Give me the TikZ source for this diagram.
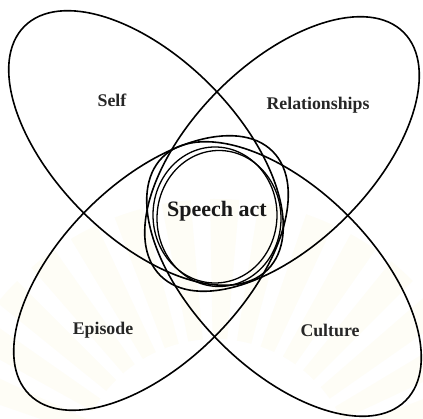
\documentclass[tikz,border=0pt]{standalone}
\usepackage{fontspec}
\setmainfont{Liberation Serif}
\usetikzlibrary{shapes.geometric}

\tikzset{
  petal/.style={draw=black, line width=1.6pt, ellipse, inner sep=0pt,
    minimum width=344pt, minimum height=180pt},
  core/.style={draw=black, line width=1.3pt, ellipse, inner sep=0pt,
    minimum width=124pt, minimum height=136pt},
  lbl/.style={font=\fontsize{17.8}{20}\selectfont\bfseries, text=black!85},
  corelbl/.style={font=\fontsize{22}{24}\selectfont\bfseries, text=black!90},
  ray/.style={fill=yellow!60!orange, fill opacity=0.035, draw=none}
}

\begin{document}
\begin{tikzpicture}[x=1pt,y=1pt]
  \fill[white] (0,0) rectangle (423,419);
  \useasboundingbox (0,0) rectangle (423,419);

  % faint sunburst watermark behind the figure
  \foreach \a in {18,28,...,162} {
    \fill[ray] (215,-60) ++(\a-3:140) arc[start angle=\a-3, end angle=\a+3, radius=140]
      -- ++(\a+3:140) arc[start angle=\a+3, end angle=\a-3, radius=280] -- cycle;
  }

  % four overlapping contexts
  \node[petal, rotate=-45] (self) at (146,271) {};
  \node[petal, rotate=45]  (rel)  at (282,265) {};
  \node[petal, rotate=45]  (epi)  at (151,146) {};
  \node[petal, rotate=-45] (cul)  at (284,140) {};

  % speech act: double ring in the middle
  \node[core] (actA) at (215,204) {};
  \node[core] (actB) at (219,200.5) {};

  \node[lbl] (tself) at (112,319) {Self};
  \node[lbl] (trel)  at (318,314) {Relationships};
  \node[lbl] (tepi)  at (103,89)  {Episode};
  \node[lbl] (tcul)  at (330,89)  {Culture};
  \node[corelbl] (tact) at (217,208) {Speech act};
\end{tikzpicture}
\end{document}
